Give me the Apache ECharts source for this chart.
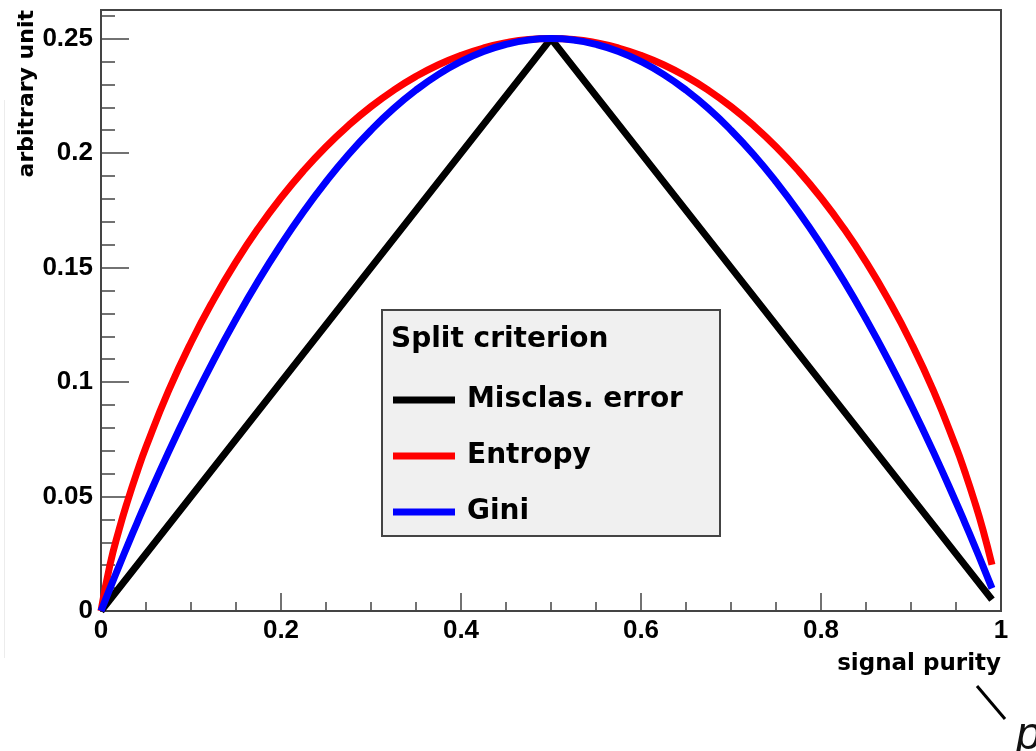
<!DOCTYPE html>
<html>
<head>
<meta charset="utf-8">
<script src="https://cdn.jsdelivr.net/npm/echarts@6/dist/echarts.min.js"></script>
<style>
  html, body { margin: 0; padding: 0; background: #fff; }
  #chart { width: 1036px; height: 751px; }
</style>
</head>
<body>
<div id="chart"></div>
<script>
// signal purity grid used by the two smooth curves
const purity = [0, 0.01, 0.02, 0.03, 0.04, 0.05, 0.075, 0.1, 0.125, 0.15, 0.175, 0.2, 0.225, 0.25, 0.275,
  0.3, 0.325, 0.35, 0.375, 0.4, 0.425, 0.45, 0.475, 0.5,
  0.525, 0.55, 0.575, 0.6, 0.625, 0.65, 0.675, 0.7, 0.725, 0.75, 0.775, 0.8, 0.825, 0.85, 0.875,
  0.9, 0.925, 0.95, 0.96, 0.97, 0.98, 0.99];
const entropy = [0, 0.0202, 0.0354, 0.0486, 0.0606, 0.0716, 0.0961, 0.1173, 0.1359, 0.1525, 0.1673, 0.1805, 0.1923, 0.2028, 0.2121,
  0.2203, 0.2274, 0.2335, 0.2386, 0.2427, 0.2459, 0.2482, 0.2496, 0.25,
  0.2496, 0.2482, 0.2459, 0.2427, 0.2386, 0.2335, 0.2274, 0.2203, 0.2121, 0.2028, 0.1923, 0.1805, 0.1673, 0.1525, 0.1359,
  0.1173, 0.0961, 0.0716, 0.0606, 0.0486, 0.0354, 0.0202];
const gini = [0, 0.0099, 0.0196, 0.0291, 0.0384, 0.0475, 0.0694, 0.09, 0.1094, 0.1275, 0.1444, 0.16, 0.1744, 0.1875, 0.1994,
  0.21, 0.2194, 0.2275, 0.2344, 0.24, 0.2444, 0.2475, 0.2494, 0.25,
  0.2494, 0.2475, 0.2444, 0.24, 0.2344, 0.2275, 0.2194, 0.21, 0.1994, 0.1875, 0.1744, 0.16, 0.1444, 0.1275, 0.1094,
  0.09, 0.0694, 0.0475, 0.0384, 0.0291, 0.0196, 0.0099];
// misclassification error is piecewise linear
const misclasPurity = [0, 0.5, 0.99];
const misclas = [0, 0.25, 0.005];

const seriesNames = ['Misclas. error', 'Entropy', 'Gini'];

const zip = (xs, ys) => xs.map((x, i) => [x, ys[i]]);

const tickFont = { fontFamily: 'Liberation Sans', fontWeight: 'bold', fontSize: 26, color: '#000' };
const axisCol = '#444';

const chart = echarts.init(document.getElementById('chart'), null, { renderer: 'canvas' });

const option = {
  animation: false,
  backgroundColor: '#fff',
  grid: {
    left: 101, right: 35, top: 10, bottom: 140,
    show: true, borderColor: axisCol, borderWidth: 2, backgroundColor: 'transparent'
  },
  xAxis: {
    type: 'value', min: 0, max: 1, interval: 0.2,
    name: 'signal purity', nameLocation: 'end', nameGap: 0,
    nameTextStyle: {
      fontFamily: 'DejaVu Sans', fontWeight: 'bold', fontSize: 23, color: '#000',
      align: 'right', verticalAlign: 'top', padding: [42, 0, 0, 0]
    },
    axisLine: { lineStyle: { color: axisCol, width: 2 } },
    axisTick: { inside: true, length: 18, lineStyle: { color: axisCol, width: 1.5 } },
    minorTick: { show: true, splitNumber: 4, length: 9, lineStyle: { color: axisCol, width: 1.5 } },
    axisLabel: Object.assign({ margin: 7 }, tickFont),
    splitLine: { show: false }
  },
  yAxis: [
    {
      type: 'value', min: 0, max: 0.2625, interval: 0.05,
      axisLine: { show: true, lineStyle: { color: axisCol, width: 2 } },
      axisTick: { show: true, inside: true, length: 28, lineStyle: { color: axisCol, width: 1.5 } },
      axisLabel: Object.assign({ margin: 8, showMaxLabel: false }, tickFont),
      splitLine: { show: false }
    },
    {
      type: 'value', min: 0, max: 0.2625, interval: 0.01, position: 'left',
      axisLine: { show: false },
      axisTick: { show: true, inside: true, length: 14, lineStyle: { color: axisCol, width: 1.5 } },
      axisLabel: { show: false },
      splitLine: { show: false }
    }
  ],
  legend: {
    data: seriesNames,
    orient: 'vertical',
    left: 393, top: 386,
    padding: 0,
    itemGap: 28,
    itemWidth: 62, itemHeight: 7,
    icon: 'rect',
    z: 20,
    textStyle: {
      fontFamily: 'DejaVu Sans', fontWeight: 'bold', fontSize: 28, color: '#000',
      padding: [0, 0, 0, 7]
    }
  },
  graphic: [
    {
      type: 'rect', z: 10,
      shape: { x: 382, y: 310, width: 338, height: 226 },
      style: { fill: '#f0f0f0', stroke: '#444', lineWidth: 2 }
    },
    {
      type: 'text', z: 11, x: 391, y: 340,
      style: {
        text: 'Split criterion', fill: '#000',
        font: 'bold 28px "DejaVu Sans"', align: 'left', verticalAlign: 'middle'
      }
    },
    {
      type: 'text', x: 27, y: 10, rotation: Math.PI / 2,
      style: {
        text: 'arbitrary unit', fill: '#000',
        font: 'bold 22px "DejaVu Sans"', align: 'right', verticalAlign: 'middle'
      }
    },
    {
      type: 'line',
      shape: { x1: 977, y1: 686, x2: 1005, y2: 719 },
      style: { stroke: '#000', lineWidth: 3 }
    },
    {
      type: 'text', x: 1016, y: 736,
      style: {
        text: 'p', fill: '#111',
        font: 'italic 46px "Liberation Sans"', align: 'left', verticalAlign: 'middle'
      }
    },
    {
      type: 'line',
      shape: { x1: 4.5, y1: 100, x2: 4.5, y2: 658 },
      style: { stroke: '#ececec', lineWidth: 1 }
    }
  ],
  series: [
    {
      name: seriesNames[0], type: 'line', data: zip(misclasPurity, misclas),
      showSymbol: false, color: '#000', lineStyle: { width: 7, color: '#000' }
    },
    {
      name: seriesNames[1], type: 'line', data: zip(purity, entropy),
      smooth: true, showSymbol: false, color: '#ff0000', lineStyle: { width: 7, color: '#ff0000' }
    },
    {
      name: seriesNames[2], type: 'line', data: zip(purity, gini),
      smooth: true, showSymbol: false, color: '#0000ff', lineStyle: { width: 7, color: '#0000ff' }
    }
  ]
};

chart.setOption(option);
</script>
</body>
</html>
